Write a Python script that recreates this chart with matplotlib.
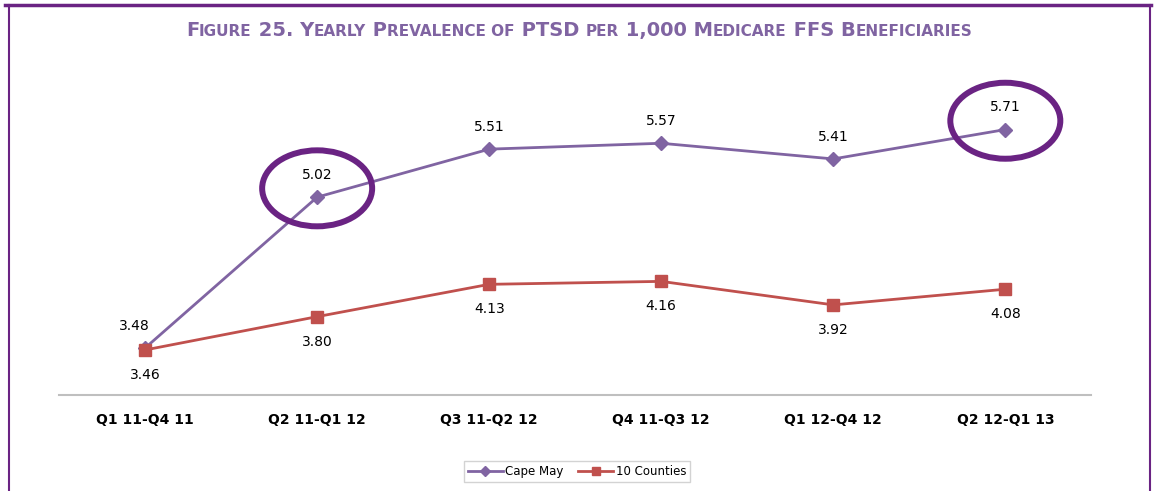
import numpy as np
import matplotlib.pyplot as plt
from matplotlib.patches import Ellipse
from matplotlib.lines import Line2D

periods = ["Q1 11-Q4 11", "Q2 11-Q1 12", "Q3 11-Q2 12", "Q4 11-Q3 12", "Q1 12-Q4 12", "Q2 12-Q1 13"]
cape_may = [3.48, 5.02, 5.51, 5.57, 5.41, 5.71]
ten_counties = [3.46, 3.80, 4.13, 4.16, 3.92, 4.08]

purple = "#8064a2"
red = "#c0504d"
frame = "#6a2383"

fig = plt.figure(figsize=(11.54, 4.91), dpi=100)
ax = fig.add_axes([0.0512, 0.1955, 0.8945, 0.5985])

x = np.arange(len(periods))
ax.plot(x, cape_may, color=purple, lw=2, marker="D", ms=7, label="Cape May", zorder=3)
ax.plot(x, ten_counties, color=red, lw=2, marker="s", ms=9, label="10 Counties", zorder=4)

ax.set_xlim(-0.5, len(periods) - 0.5)
ax.set_ylim(3.0, 6.0)
ax.set_yticks([])
ax.set_xticks(x)
ax.set_xticklabels(periods, fontweight="bold", fontsize=10)
ax.tick_params(axis="x", length=0, pad=13)
for s in ["top", "left", "right"]:
    ax.spines[s].set_visible(False)
ax.spines["bottom"].set_color("#bfbfbf")
ax.spines["bottom"].set_linewidth(1.5)

# data labels
for i, v in enumerate(cape_may):
    dx = -8 if i == 0 else 0
    ax.annotate(f"{v:.2f}", (i, v), xytext=(dx, 16), textcoords="offset points",
                ha="center", va="center", fontsize=10)
for i, v in enumerate(ten_counties):
    ax.annotate(f"{v:.2f}", (i, v), xytext=(0, -18), textcoords="offset points",
                ha="center", va="center", fontsize=10)

# highlight circles
for i in [1, 5]:
    px, py = ax.transData.transform((i, cape_may[i] + 0.09))
    fx, fy = fig.transFigure.inverted().transform((px, py))
    fig.patches.append(Ellipse((fx, fy), 110 / 1154, 76 / 491, transform=fig.transFigure,
                               fill=False, ec=frame, lw=4.3, zorder=10))

# legend
h = [Line2D([], [], color=purple, lw=2, marker="D", ms=5),
     Line2D([], [], color=red, lw=2, marker="s", ms=6)]
fig.legend(h, ["Cape May", "10 Counties"], loc="center", bbox_to_anchor=(0.5, 0.04),
           ncol=2, fontsize=8.5, frameon=True, fancybox=False, edgecolor="#c8c8c8",
           handlelength=3, columnspacing=1.2, handletextpad=0.2, borderpad=0.35)

# frame lines
fig.add_artist(Line2D([0.004, 0.9975], [0.99, 0.99], color=frame, lw=2.5, transform=fig.transFigure))
fig.add_artist(Line2D([0.0075, 0.0075], [0.0, 0.99], color=frame, lw=1.5, transform=fig.transFigure))
fig.add_artist(Line2D([0.9965, 0.9965], [0.0, 0.99], color=frame, lw=1.5, transform=fig.transFigure))

# small-caps title
title_runs = [("F", 1), ("IGURE", 0), (" 25. Y", 1), ("EARLY", 0), (" P", 1), ("REVALENCE OF", 0),
              (" PTSD ", 1), ("PER", 0), (" 1,000 M", 1), ("EDICARE", 0), (" FFS B", 1), ("ENEFICIARIES", 0)]
renderer = fig.canvas.get_renderer()
texts = []
for t, big in title_runs:
    txt = fig.text(0, 0.926, t, fontsize=14 if big else 11, fontweight="bold", color="#8064a2",
                   va="baseline")
    texts.append(txt)
widths = [tx.get_window_extent(renderer).width for tx in texts]
total = sum(widths)
cur = (1154 - total) / 2 + 2
for tx, w in zip(texts, widths):
    tx.set_x(cur / 1154)
    cur += w

fig.savefig("out.png", dpi=100)
